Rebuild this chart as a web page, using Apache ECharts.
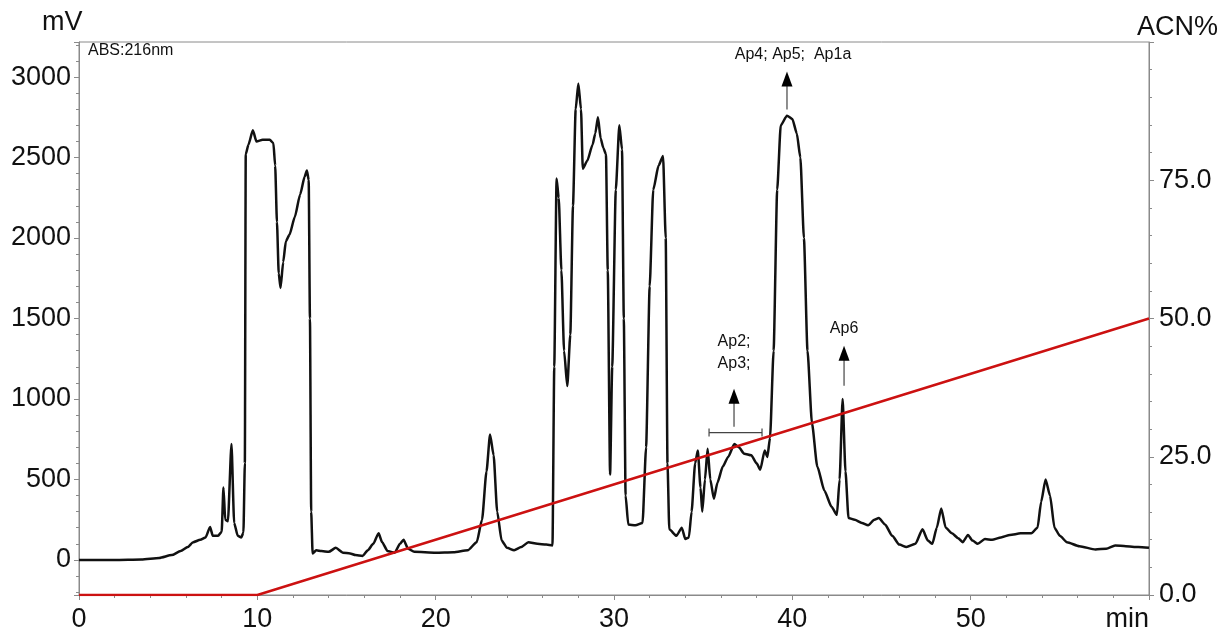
<!DOCTYPE html>
<html><head><meta charset="utf-8">
<script src="https://cdn.jsdelivr.net/npm/echarts@6/dist/echarts.min.js"></script>
<style>html,body{margin:0;padding:0;background:#fff}#c{width:1226px;height:633px}</style>
</head><body><div id="c"></div>
<script>
// Chromatogram (ABS 216 nm): retention time (min) and signal (mV)
const timeMin = [0,2,3.5,4.5,5.2,5.7,6.1,6.4,6.8,7.1,7.35,7.5,7.8,8.0,8.1,8.2,8.35,8.55,8.7,8.9,9.1,9.22,9.3,9.35,9.5,9.75,9.95,10.3,10.7,10.9,11.0,11.1,11.2,11.3,11.45,11.6,11.8,12.1,12.4,12.65,12.78,12.88,12.95,13.02,13.1,13.3,13.6,14.0,14.4,14.8,15.2,15.5,15.9,16.2,16.5,16.8,17.0,17.3,17.7,18.0,18.2,18.45,18.8,20,21,21.8,22.3,22.6,22.85,23.05,23.25,23.45,23.7,24.0,24.4,24.8,25.2,25.7,26.2,26.55,26.65,26.78,26.9,27.05,27.2,27.38,27.55,27.7,27.85,28.0,28.15,28.25,28.5,28.8,28.95,29.1,29.25,29.4,29.55,29.65,29.78,29.9,30.1,30.3,30.45,30.55,30.65,30.8,31.2,31.6,31.8,32.0,32.2,32.5,32.75,32.9,33.0,33.1,33.5,33.8,34.0,34.2,34.35,34.55,34.7,34.85,34.95,35.1,35.25,35.4,35.6,35.8,36.1,36.4,36.75,37.0,37.3,37.7,38.0,38.2,38.45,38.6,38.75,38.95,39.15,39.35,39.7,40.0,40.25,40.45,40.65,40.85,41.1,41.4,41.8,42.2,42.5,42.65,42.82,42.98,43.15,43.5,43.9,44.25,44.6,44.85,45.2,45.6,46.0,46.4,46.9,47.3,47.6,47.85,48.1,48.35,48.6,48.95,49.3,49.55,49.85,50.1,50.4,50.8,51.2,51.7,52.2,52.8,53.4,53.75,53.95,54.2,54.45,54.7,55.0,55.4,56.1,57.0,57.6,58.1,58.7,59.4,60];
const signalMv = [0,0,3,12,30,55,80,110,125,140,205,150,150,175,450,250,240,720,230,150,140,170,600,2520,2580,2670,2600,2610,2610,2590,2450,2100,1780,1690,1850,1980,2020,2130,2270,2380,2420,2360,1500,300,40,60,55,50,75,45,40,30,25,60,100,165,110,55,45,100,125,70,50,45,48,60,110,250,550,780,650,300,120,75,60,80,110,100,95,90,1200,2370,2250,1800,1300,1080,1400,2200,2800,2960,2800,2430,2480,2580,2650,2750,2620,2560,2520,1800,530,1200,2300,2700,2550,1500,400,220,215,230,700,1700,2300,2450,2510,2000,600,190,150,200,130,140,300,600,680,450,300,500,690,500,380,480,580,640,720,700,660,650,600,560,680,640,760,1300,2300,2700,2760,2740,2650,2500,2000,1300,850,580,430,330,280,500,1000,550,260,250,230,215,250,260,220,150,95,80,100,190,120,100,200,320,200,165,135,110,155,120,100,130,125,140,155,165,165,200,360,500,400,200,150,110,85,65,70,90,85,80,75];
// Gradient program (ACN %)
const gradTime = [0, 10, 60];
const gradAcn = [0, 0, 50];
// Peak annotations (data units: min, mV)
const peakLabels = [
  {x: 40.04, y: 3137, text: 'Ap4; Ap5;  Ap1a'},
  {x: 36.73, y: 1355, text: 'Ap2;'},
  {x: 36.73, y: 1218, text: 'Ap3;'},
  {x: 42.9, y: 1435, text: 'Ap6'}
];
const peakArrows = [
  {x: 39.7, tip: 3035, tail: 2798},
  {x: 36.73, tip: 1064, tail: 828},
  {x: 42.9, tip: 1330, tail: 1082}
];
const bracket = {x1: 35.33, x2: 38.3, y: 791};

const FONT = 'Liberation Sans, Arial, sans-serif';
const AX = '#8a8a8a';
const FS = 27;
const chart = echarts.init(document.getElementById('c'), null, {renderer: 'canvas'});
const sig = timeMin.map((t, i) => [t, signalMv[i]]);
const grad = gradTime.map((t, i) => [t, gradAcn[i]]);

chart.setOption({
  animation: false,
  backgroundColor: '#fff',
  grid: {left: 79, right: 77, top: 42, bottom: 36, show: true, borderColor: AX, borderWidth: 1},
  xAxis: {
    type: 'value', min: 0, max: 60, interval: 10,
    axisLine: {show: true, onZero: false, lineStyle: {color: AX, width: 1}},
    axisTick: {show: true, length: 5, lineStyle: {color: AX}},
    minorTick: {show: true, splitNumber: 5, length: 3, lineStyle: {color: AX}},
    splitLine: {show: false},
    axisLabel: {
      color: '#111', fontFamily: FONT, fontSize: FS, margin: 11,
      alignMaxLabel: 'right',
      formatter: v => v === 60 ? 'min' : String(v)
    }
  },
  yAxis: [{
    type: 'value', min: -218, max: 3218, splitNumber: 7, position: 'left',
    axisLine: {show: true, onZero: false, lineStyle: {color: AX, width: 1}},
    axisTick: {show: true, length: 5, lineStyle: {color: AX}},
    minorTick: {show: true, splitNumber: 5, length: 3, lineStyle: {color: AX}},
    splitLine: {show: false},
    axisLabel: {color: '#111', fontFamily: FONT, fontSize: FS, margin: 8, showMinLabel: false, showMaxLabel: false,
      formatter: v => (v % 500 === 0) ? String(v) : ''}
  }, {
    type: 'value', min: 0, max: 100, interval: 25, position: 'right',
    axisLine: {show: true, onZero: false, lineStyle: {color: AX, width: 1}},
    axisTick: {show: true, length: 5, lineStyle: {color: AX}},
    minorTick: {show: true, splitNumber: 5, length: 3, lineStyle: {color: AX}},
    splitLine: {show: false},
    axisLabel: {color: '#111', fontFamily: FONT, fontSize: FS, margin: 10,
      formatter: v => v >= 100 ? '' : v.toFixed(1)}
  }],
  series: [{
    type: 'line', data: sig, yAxisIndex: 0, showSymbol: false, symbol: 'none',
    smooth: 0.2, smoothMonotone: 'x',
    lineStyle: {color: '#111', width: 2.5}, z: 2
  }, {
    type: 'line', data: grad, yAxisIndex: 1, showSymbol: false, symbol: 'none',
    lineStyle: {color: '#cc1111', width: 2.4}, z: 3
  }]
});

function px(x, y) { return chart.convertToPixel({xAxisIndex: 0, yAxisIndex: 0}, [x, y]); }
const g = [];
g.push({type: 'text', left: 42, top: 9, style: {text: 'mV', font: FS + 'px ' + FONT, fill: '#111'}});
g.push({type: 'text', left: 1137, top: 14, style: {text: 'ACN%', font: FS + 'px ' + FONT, fill: '#111'}});
g.push({type: 'text', left: 88, top: 43, style: {text: 'ABS:216nm', font: '16px ' + FONT, fill: '#111'}});
peakLabels.forEach(l => {
  const p = px(l.x, l.y);
  g.push({type: 'text', x: p[0], y: p[1], style: {text: l.text, font: '16px ' + FONT, fill: '#111', align: 'center', verticalAlign: 'middle'}});
});
peakArrows.forEach(a => {
  const t = px(a.x, a.tip), b = px(a.x, a.tail);
  g.push({type: 'line', shape: {x1: b[0], y1: b[1], x2: t[0], y2: t[1] + 12}, style: {stroke: '#444', lineWidth: 1.2}});
  g.push({type: 'polygon', shape: {points: [[t[0], t[1]], [t[0] - 5.5, t[1] + 15], [t[0] + 5.5, t[1] + 15]]}, style: {fill: '#000'}});
});
{
  const a = px(bracket.x1, bracket.y), b = px(bracket.x2, bracket.y);
  g.push({type: 'line', shape: {x1: a[0], y1: a[1], x2: b[0], y2: b[1]}, style: {stroke: '#444', lineWidth: 1.2}});
  g.push({type: 'line', shape: {x1: a[0], y1: a[1] - 4, x2: a[0], y2: a[1] + 4}, style: {stroke: '#444', lineWidth: 1.2}});
  g.push({type: 'line', shape: {x1: b[0], y1: b[1] - 4, x2: b[0], y2: b[1] + 4}, style: {stroke: '#444', lineWidth: 1.2}});
}
chart.setOption({graphic: g});
</script>
</body></html>
